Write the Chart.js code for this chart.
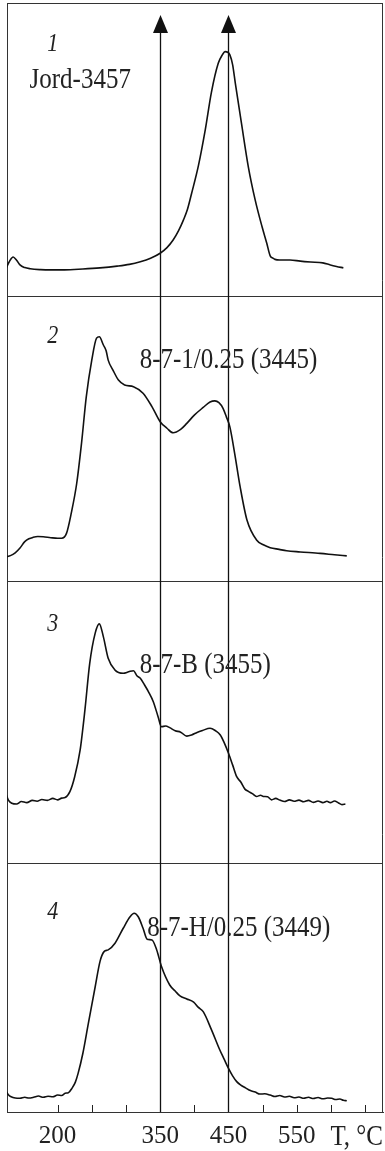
<!DOCTYPE html>
<html>
<head>
<meta charset="utf-8">
<script src="https://cdn.jsdelivr.net/npm/chart.js@4.4.1/dist/chart.umd.min.js"></script>
<style>
  html, body { margin: 0; padding: 0; background: #fff; }
  canvas { display: block; }
</style>
</head>
<body>
<canvas id="myChart" width="385" height="1151"></canvas>
<script>
// temperature (deg C) and signal (0-100 of panel height)
var temps1 = [125, 130, 135, 140, 145, 152, 160, 175, 189, 210, 237, 262, 287, 305, 321, 336, 350, 360, 369, 377,
	384, 390, 396, 406, 416, 425, 435, 441, 445, 449, 452, 456, 460, 469, 479, 489, 499, 506, 511, 515,
	518, 525, 540, 555, 570, 588, 599, 608, 618];
var signal1 = [9.6, 12.0, 13.3, 12.2, 10.6, 9.7, 9.3, 9.0, 8.9, 8.9, 9.2, 9.6, 10.2, 10.8, 11.7, 12.9, 14.6, 16.5, 19.1, 22.3,
	25.9, 29.6, 35.0, 44.5, 56.7, 69.5, 79.4, 82.3, 83.4, 83.2, 82.3, 79.0, 72.6, 58.9, 44.1, 32.8, 23.7, 18.0, 13.7, 12.9,
	12.5, 12.3, 12.3, 11.9, 11.6, 11.3, 10.6, 10.1, 9.6];

var temps2 = [125, 131, 138, 145, 152, 158, 164, 171, 179, 190, 200, 206, 213, 220, 228, 235, 242, 250, 257, 261,
	267, 271, 274, 281, 289, 298, 311, 325, 338, 350, 360, 369, 380, 389, 400, 413, 423, 430, 436, 442,
	447, 452, 459, 467, 477, 491, 501, 511, 524, 535, 555, 584, 605, 623];
var signal2 = [8.5, 8.9, 9.9, 11.6, 13.8, 14.8, 15.3, 15.6, 15.5, 15.2, 15.0, 15.0, 16.7, 23.8, 34.3, 48.3, 64.7, 77.5, 85.2, 85.7,
	82.8, 80.8, 77.5, 74.0, 70.5, 68.8, 68.2, 65.9, 61.2, 55.9, 53.6, 52.0, 53.2, 55.3, 58.2, 60.9, 62.8, 63.2, 62.6, 60.6,
	57.5, 54.1, 44.8, 33.1, 21.4, 14.4, 12.7, 11.7, 11.1, 10.6, 10.2, 9.7, 9.2, 8.8];

var temps3 = [125, 128, 133, 140, 147, 155, 163, 170, 177, 185, 193, 200, 206, 211, 218, 225, 233, 240, 247, 255,
	261, 267, 274, 284, 296, 304, 311, 316, 321, 327, 333, 340, 347, 352, 358, 364, 372, 380, 389, 396,
	404, 412, 423, 431, 438, 444, 450, 456, 462, 468, 474, 479, 485, 491, 497, 501, 507, 513, 519, 525,
	532, 539, 546, 553, 560, 567, 574, 581, 588, 594, 599, 605, 611, 616, 621];
var signal3 = [24.1, 22.3, 21.2, 20.9, 21.8, 21.4, 22.2, 21.9, 22.5, 22.2, 22.9, 22.4, 23.0, 23.2, 25.3, 30.6, 40.1, 54.3, 70.8, 81.5,
	84.8, 80.2, 72.6, 68.4, 67.3, 67.8, 68.2, 66.4, 65.5, 63.2, 60.7, 57.2, 51.9, 48.3, 48.6, 48.0, 46.9, 46.4, 45.0, 45.4,
	46.3, 47.0, 47.8, 46.9, 45.4, 42.5, 38.9, 34.8, 30.6, 28.7, 26.2, 25.4, 24.6, 23.6, 24.0, 23.6, 23.5, 22.4, 22.9, 22.3,
	21.8, 22.4, 21.9, 22.3, 21.7, 22.2, 21.5, 22.0, 21.4, 21.9, 21.4, 22.0, 21.3, 20.7, 20.9];

var temps4 = [125, 128, 132, 138, 145, 152, 158, 165, 172, 179, 186, 193, 200, 206, 211, 216, 221, 226, 230, 237,
	245, 255, 262, 268, 274, 284, 296, 306, 312, 318, 325, 331, 338, 345, 352, 364, 372, 379, 389, 399,
	406, 413, 425, 437, 444, 450, 456, 462, 468, 475, 482, 489, 496, 503, 511, 518, 525, 532, 539, 546,
	553, 560, 567, 574, 581, 588, 595, 601, 607, 613, 618, 623];
var signal4 = [8.2, 6.9, 6.1, 5.6, 5.5, 5.9, 5.6, 5.9, 6.4, 5.9, 6.3, 6.1, 6.8, 6.6, 7.5, 7.8, 9.5, 12.0, 15.5, 23.6,
	35.6, 50.3, 60.4, 64.4, 65.1, 67.8, 73.8, 78.4, 79.8, 78.4, 73.8, 69.4, 69.1, 65.1, 58.4, 51.0, 48.6, 46.6, 45.4, 44.1,
	42.0, 40.3, 33.1, 25.1, 21.0, 17.5, 14.5, 12.2, 10.8, 9.7, 8.6, 8.0, 7.2, 7.3, 6.8, 6.2, 6.6, 6.0, 6.3, 5.7,
	6.0, 5.5, 5.9, 5.4, 5.8, 5.3, 5.6, 5.5, 5.0, 5.2, 4.7, 4.5];

var tickValues = [200, 250, 300, 350, 400, 450, 500, 550, 600, 650];
var tickLabels = [200, 350, 450, 550];
var markerTemps = [350, 450];
var panelNumbers = ["1", "2", "3", "4"];
var sampleNames = ["Jord-3457", "8-7-1/0.25 (3445)", "8-7-B (3455)", "8-7-H/0.25 (3449)"];

// where the captions sit, in each panel's own units
var numberSpots = [{axis: 'y1', t: 193, v: 86}, {axis: 'y2', t: 193, v: 86}, {axis: 'y3', t: 193, v: 84.5}, {axis: 'y4', t: 193, v: 80}];
var nameSpots = [{axis: 'y1', t: 159, v: 73.7}, {axis: 'y2', t: 320, v: 77.5}, {axis: 'y3', t: 320, v: 70.2}, {axis: 'y4', t: 331, v: 73.9}];

function series(t, v) {
	return t.map(function (x, i) { return {x: x, y: v[i]}; });
}

function line(t, v, axis) {
	return {
		data: series(t, v),
		yAxisID: axis,
		borderColor: '#111',
		borderWidth: 1.6,
		pointRadius: 0,
		fill: false,
		cubicInterpolationMode: 'monotone'
	};
}

function panelAxis(weight) {
	return {
		type: 'linear',
		position: 'left',
		stack: 'panels',
		stackWeight: weight,
		min: 0,
		max: 100,
		ticks: { display: false, stepSize: 100 },
		grid: { color: '#333', lineWidth: 1, drawTicks: false },
		border: { color: '#333', width: 1 },
		afterFit: function (s) { s.width = 0; }
	};
}

// text in the figure is a little taller than wide
function tallText(c, text, x, y) {
	c.save();
	c.translate(x, y);
	c.scale(1, 1.15);
	c.fillText(text, 0, 0);
	c.restore();
}

var decorations = {
	id: 'decorations',
	afterDatasetsDraw: function (chart) {
		var c = chart.ctx, area = chart.chartArea, xs = chart.scales.x, top = chart.scales.y1;
		c.save();
		c.fillStyle = '#111';

		// right frame edge
		c.lineWidth = 1;
		c.strokeStyle = '#333';
		c.beginPath(); c.moveTo(area.right - 0.5, area.top); c.lineTo(area.right - 0.5, area.bottom); c.stroke();

		// inner tick marks on the temperature axis
		c.strokeStyle = '#222';
		tickValues.forEach(function (t) {
			var px = Math.round(xs.getPixelForValue(t)) + 0.5;
			c.beginPath(); c.moveTo(px, area.bottom); c.lineTo(px, area.bottom - 7); c.stroke();
		});

		// reference temperatures with arrows
		c.strokeStyle = '#111';
		c.lineWidth = 1.3;
		markerTemps.forEach(function (t) {
			var px = Math.round(xs.getPixelForValue(t)) + 0.5;
			var tip = top.getPixelForValue(95.9), base = top.getPixelForValue(89.8);
			c.beginPath(); c.moveTo(px, base); c.lineTo(px, area.bottom); c.stroke();
			c.beginPath(); c.moveTo(px, tip); c.lineTo(px - 7.5, base); c.lineTo(px + 7.5, base); c.closePath(); c.fill();
		});

		// panel numbers and sample names
		c.fillStyle = '#222';
		c.textBaseline = 'middle';
		c.textAlign = 'center';
		c.font = 'italic 22px "Liberation Serif"';
		numberSpots.forEach(function (s, i) {
			tallText(c, panelNumbers[i], xs.getPixelForValue(s.t), chart.scales[s.axis].getPixelForValue(s.v));
		});
		c.textAlign = 'left';
		c.font = '25px "Liberation Serif"';
		nameSpots.forEach(function (s, i) {
			tallText(c, sampleNames[i], xs.getPixelForValue(s.t), chart.scales[s.axis].getPixelForValue(s.v));
		});

		// axis title next to the last tick label
		c.textAlign = 'right';
		c.font = '25px "Liberation Serif"';
		tallText(c, 'T, °C', area.right, area.bottom + 25);
		c.restore();
	}
};

var ctx = document.getElementById("myChart");
var myChart = new Chart(ctx, {
	type: 'line',
	data: {
		datasets: [
			line(temps1, signal1, 'y1'),
			line(temps2, signal2, 'y2'),
			line(temps3, signal3, 'y3'),
			line(temps4, signal4, 'y4')
		]
	},
	options: {
		responsive: false,
		maintainAspectRatio: false,
		animation: false,
		layout: { padding: { left: 7, right: 2, top: 3, bottom: 0 } },
		plugins: { legend: false, tooltip: { enabled: false } },
		scales: {
			x: {
				type: 'linear',
				min: 126,
				max: 676,
				grid: { display: false, drawTicks: false },
				border: { color: '#333', width: 1 },
				afterBuildTicks: function (s) {
					s.ticks = tickValues.map(function (v) { return {value: v}; });
				},
				afterFit: function (s) { s.height = 39; },
				ticks: {
					autoSkip: false,
					maxRotation: 0,
					padding: 9,
					color: '#222',
					font: { family: '"Liberation Serif"', size: 25 },
					callback: function (v) { return tickLabels.indexOf(v) >= 0 ? String(v) : ''; }
				}
			},
			y4: panelAxis(249),
			y3: panelAxis(282),
			y2: panelAxis(285),
			y1: panelAxis(293)
		}
	},
	plugins: [decorations]
});
</script>
</body>
</html>
